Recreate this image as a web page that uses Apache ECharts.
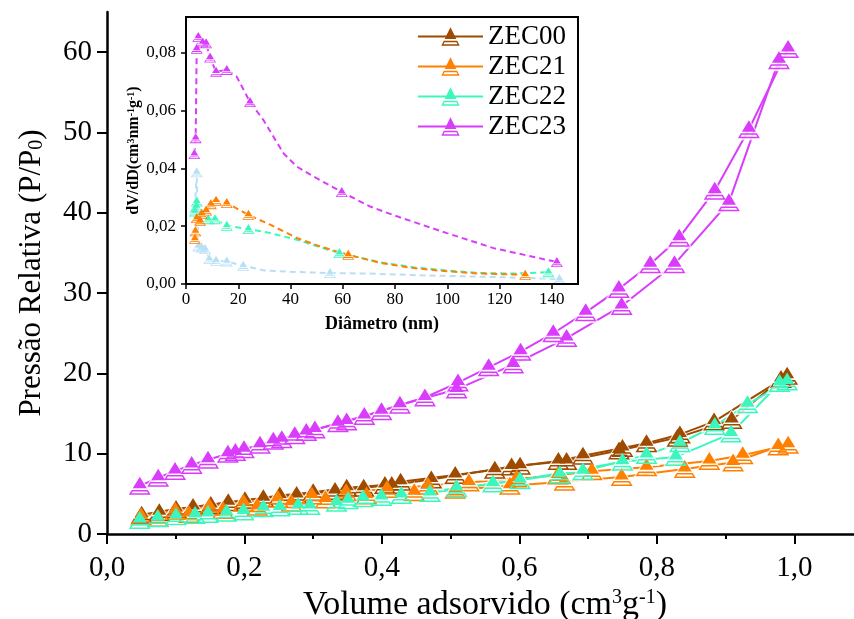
<!DOCTYPE html>
<html>
<head>
<meta charset="utf-8">
<script src="https://cdn.jsdelivr.net/npm/echarts@6/dist/echarts.min.js"></script>
<style>html,body{margin:0;padding:0;background:#fff}#c{width:854px;height:619px}</style>
</head>
<body>
<div id="c"></div>
<script>
// ---------- main isotherm data: [x, y] ----------
const zec00Ads = [[0.0504,2.4],[0.1004,3.1],[0.151,3.6],[0.2007,4.2],[0.2514,4.8],[0.300,5.2],[0.3488,5.75],[0.4044,6.1],[0.4272,6.5],[0.5067,7.35],[0.5643,8.0],[0.601,8.5],[0.6568,9.1],[0.6925,9.75],[0.750,10.7],[0.785,11.3],[0.8336,12.4],[0.8833,14.0],[0.9896,19.7]];
const zec00Des = [[0.9807,19.3],[0.909,14.2],[0.83,12.0],[0.745,10.4],[0.6687,9.1],[0.5887,8.4],[0.4719,6.8],[0.4143,6.1],[0.3735,5.77],[0.3318,5.35],[0.2759,4.85],[0.2275,4.45],[0.1764,3.95],[0.1252,3.36],[0.0761,2.7]];
const zec21Ads = [[0.0497,2.2],[0.0994,2.9],[0.149,3.4],[0.1987,3.9],[0.2484,4.4],[0.298,4.8],[0.3478,5.2],[0.4074,5.6],[0.467,6.0],[0.5266,6.4],[0.5962,6.9],[0.6558,7.3],[0.7055,7.8],[0.785,8.3],[0.8764,9.1],[0.925,9.8],[0.9911,11.1]];
const zec21Des = [[0.9767,10.9],[0.911,8.9],[0.8406,8.1],[0.7488,7.1],[0.6657,6.5],[0.5862,6.0],[0.5067,5.5],[0.4471,5.2],[0.3776,4.8],[0.318,4.3],[0.2683,3.9],[0.2186,3.4],[0.1689,3.0],[0.1192,2.5],[0.0745,2.0]];
const zec22Ads = [[0.0477,1.75],[0.1004,2.2],[0.147,2.5],[0.1987,2.8],[0.2514,3.3],[0.2951,3.5],[0.3508,4.2],[0.3994,4.6],[0.470,5.1],[0.5616,6.3],[0.6588,7.4],[0.6925,7.8],[0.785,9.85],[0.8336,11.3],[0.8843,13.45],[0.932,16.15],[0.9896,19.0]];
const zec22Des = [[0.9787,18.8],[0.908,12.5],[0.8276,9.6],[0.750,9.0],[0.601,6.7],[0.5087,5.7],[0.4282,4.86],[0.3726,4.44],[0.3339,3.9],[0.2782,3.5],[0.2275,3.2],[0.1739,2.66],[0.1282,2.37],[0.0735,1.95]];
const zec23Ads = [[0.0477,6.0],[0.0745,7.0],[0.099,7.85],[0.1232,8.6],[0.147,9.25],[0.1759,10.0],[0.1993,10.55],[0.2226,11.1],[0.242,11.6],[0.2732,12.3],[0.290,12.7],[0.336,13.8],[0.3744,14.7],[0.4626,17.0],[0.5107,18.85],[0.5554,20.75],[0.6018,22.7],[0.6493,25.0],[0.6965,27.6],[0.7448,30.5],[0.7904,33.6],[0.8326,36.9],[0.8843,42.75],[0.934,50.4],[0.991,60.4]];
const zec23Des = [[0.9777,59.0],[0.9049,41.3],[0.8257,33.6],[0.7488,28.4],[0.6687,24.4],[0.5912,21.1],[0.5087,18.0],[0.4262,16.1],[0.3994,15.3],[0.3487,14.0],[0.3025,13.0],[0.2543,11.8],[0.1868,10.2]];

// ---------- inset pore-size data: [diameter nm, dV/dD] ----------
const psd23Marks = [[3.2,0.0449],[3.7,0.0504],[4.1,0.0813],[4.7,0.0854],[6.4,0.0835],[7.7,0.0832],[9.2,0.0783],[11.5,0.0734],[15.6,0.074],[24.5,0.0629],[59.6,0.0318],[141.9,0.0076]];
const psd23Curve = [[3.2,0.0449],[3.7,0.0504],[4.1,0.0813],[4.7,0.0854],[6.4,0.0835],[7.7,0.0832],[9.2,0.0783],[11.5,0.0734],[15.6,0.074],[19.4,0.0717],[24.5,0.0629],[29.6,0.0567],[37.3,0.0452],[42.4,0.0406],[48.7,0.0372],[59.6,0.0318],[70.4,0.0268],[80.7,0.0234],[99.8,0.0176],[117.7,0.0124],[141.9,0.0076]];
const psd21Marks = [[3.4,0.0156],[3.6,0.0182],[4.1,0.0228],[5.4,0.0219],[6.0,0.0243],[7.7,0.0254],[9.5,0.0276],[11.5,0.0288],[15.6,0.028],[23.9,0.0239],[62.1,0.0101],[129.8,0.0032]];
const psd21Curve = [[3.4,0.0156],[3.6,0.0182],[4.1,0.0228],[5.4,0.0219],[6.0,0.0243],[7.7,0.0254],[9.5,0.0276],[11.5,0.0288],[15.6,0.028],[23.9,0.0239],[32.2,0.0205],[42.4,0.0159],[51.3,0.013],[62.1,0.0101],[74.3,0.0073],[87,0.0055],[99.7,0.0044],[112.6,0.0036],[129.8,0.0032]];
const psd22Marks = [[3.4,0.0251],[4.0,0.0268],[4.1,0.0285],[8.5,0.0224],[11.1,0.0224],[15.6,0.0201],[23.9,0.019],[58.7,0.0107],[138.7,0.0041]];
const psd22Curve = [[3.4,0.0251],[4.0,0.0268],[4.1,0.0285],[8.5,0.0224],[11.1,0.0224],[15.6,0.0201],[23.9,0.019],[32.2,0.0176],[42.4,0.0153],[51.3,0.0127],[58.7,0.0107],[74.3,0.0075],[87,0.0058],[99.7,0.0047],[112.6,0.0038],[125,0.0036],[138.7,0.0041]];
const psdBlueMarks = [[3.4,0.0262],[4.1,0.0386],[4.7,0.013],[6.0,0.0126],[7.3,0.0121],[8.9,0.0086],[11.5,0.008],[15.6,0.0078],[21.9,0.0063],[55.1,0.0038],[142.9,0.0017]];
const psdBlueCurve = [[3.4,0.0262],[4.1,0.0386],[4.7,0.013],[6.0,0.0126],[7.3,0.0121],[8.9,0.0086],[11.5,0.008],[15.6,0.0078],[21.9,0.0063],[30,0.0047],[40,0.0042],[55.1,0.0038],[70,0.0036],[90,0.003],[110,0.0026],[130,0.0021],[142.9,0.0017]];

// ---------- tick values ----------
const mainXTicks = [0,0.2,0.4,0.6,0.8,1.0];
const mainXMinor = [0.1,0.3,0.5,0.7,0.9];
const mainYTicks = [0,10,20,30,40,50,60];
const insetXTicks = [0,20,40,60,80,100,120,140];
const insetYTicks = [0,0.02,0.04,0.06,0.08];

const legendNames = ['ZEC00','ZEC21','ZEC22','ZEC23'];
const colors = {ZEC00:'#9e4b00', ZEC21:'#ff8000', ZEC22:'#3cf7bd', ZEC23:'#d93dfb', blue:'#b8e0f5'};

const FONT = 'Liberation Serif';
const SYM = 'path://M11,0L18.03,11.5L3.97,11.5Z M3,13.1L19,13.1L22,18L0,18Z M3.83,14.6L2.67,16.5L19.33,16.5L18.17,14.6Z';

const series = [];
function addBranch(name, lineData, markData, color, xi, yi, cfg) {
  series.push({type:'line', name: name + '~line', xAxisIndex: xi, yAxisIndex: yi, data: lineData,
    symbol:'none', smooth: false, silent:true, z:1, animation:false,
    lineStyle:{color: color, width: cfg.lw, type: cfg.dash || 'solid'}});
  series.push({type:'scatter', name: name + '~mask', xAxisIndex: xi, yAxisIndex: yi, data: markData,
    symbol:'triangle', symbolSize: cfg.mask, silent:true, z:2, animation:false,
    itemStyle:{color:'#ffffff'}});
  series.push({type:'line', name: name, xAxisIndex: xi, yAxisIndex: yi, data: markData,
    symbol: SYM, symbolSize: cfg.size, z:3, animation:false, silent:true,
    itemStyle:{color: color}, lineStyle:{color: color, width: 2, opacity: 0}});
}
const mainCfg = {lw:2, size:[22,18], mask:[27,22]};
addBranch('ZEC00', zec00Ads, zec00Ads, colors.ZEC00, 0, 0, mainCfg);
addBranch('ZEC00', zec00Des, zec00Des, colors.ZEC00, 0, 0, mainCfg);
addBranch('ZEC21', zec21Ads, zec21Ads, colors.ZEC21, 0, 0, mainCfg);
addBranch('ZEC21', zec21Des, zec21Des, colors.ZEC21, 0, 0, mainCfg);
addBranch('ZEC22', zec22Ads, zec22Ads, colors.ZEC22, 0, 0, mainCfg);
addBranch('ZEC22', zec22Des, zec22Des, colors.ZEC22, 0, 0, mainCfg);
addBranch('ZEC23', zec23Ads, zec23Ads, colors.ZEC23, 0, 0, mainCfg);
addBranch('ZEC23', zec23Des, zec23Des, colors.ZEC23, 0, 0, mainCfg);

const insetCfg = {lw:2, size:[12,10], mask:[15,12], dash:[6,4]};
addBranch('psdBlue', psdBlueCurve, psdBlueMarks, colors.blue, 2, 1, insetCfg);
addBranch('psd22', psd22Curve, psd22Marks, colors.ZEC22, 2, 1, insetCfg);
addBranch('psd21', psd21Curve, psd21Marks, colors.ZEC21, 2, 1, insetCfg);
addBranch('psd23', psd23Curve, psd23Marks, colors.ZEC23, 2, 1, insetCfg);

const comma = (v, d) => v.toFixed(d).replace('.', ',');
const blackLine = w => ({show:true, lineStyle:{color:'#000', width:w}});

const option = {
  backgroundColor:'#ffffff',
  animation:false,
  grid:[
    {left:107, top:12, width:756, height:522, outerBoundsMode:'none', containLabel:false},
    {left:186, top:17, width:392, height:267, outerBoundsMode:'none', containLabel:false,
     show:true, backgroundColor:'#ffffff', borderColor:'#000', borderWidth:2}
  ],
  xAxis:[
    {type:'value', gridIndex:0, min:0, max:1.1, interval:0.2, position:'bottom', z:10,
     axisLine: blackLine(2.5), splitLine:{show:false},
     axisTick:{show:true, inside:false, length:10, customValues: mainXTicks, lineStyle:{color:'#000', width:2}},
     axisLabel:{customValues: mainXTicks, formatter: v => comma(v,1), fontFamily:FONT, fontSize:29, color:'#000', margin:20},
     name:'Volume adsorvido (cm{sup|3}g{sup|-1})', nameLocation:'middle', nameGap:52,
     nameTextStyle:{fontFamily:FONT, fontSize:34, color:'#000',
       rich:{sup:{fontFamily:FONT, fontSize:20, color:'#000', verticalAlign:'top'}}}},
    {type:'value', gridIndex:0, min:0, max:1.1, interval:0.2, position:'bottom', z:10,
     axisLine:{show:false}, splitLine:{show:false}, axisLabel:{show:false},
     axisTick:{show:true, length:5, customValues: mainXMinor, lineStyle:{color:'#000', width:2}}},
    {type:'value', gridIndex:1, min:0, max:150, interval:20, position:'bottom', z:10,
     axisLine: blackLine(2), splitLine:{show:false},
     axisTick:{show:true, length:5, customValues: insetXTicks, lineStyle:{color:'#000', width:1.5}},
     axisLabel:{customValues: insetXTicks, fontFamily:FONT, fontSize:17, color:'#000', margin:7},
     name:'Diâmetro (nm)', nameLocation:'middle', nameGap:31,
     nameTextStyle:{fontFamily:FONT, fontSize:18, fontWeight:'bold', color:'#000'}}
  ],
  yAxis:[
    {type:'value', gridIndex:0, min:0, max:65, interval:10, z:10,
     axisLine: blackLine(2.5), splitLine:{show:false},
     axisTick:{show:true, length:10, customValues: mainYTicks, lineStyle:{color:'#000', width:2}},
     axisLabel:{customValues: mainYTicks, fontFamily:FONT, fontSize:29, color:'#000', margin:15},
     name:'Pressão Relativa (P/P{sub|0})', nameLocation:'middle', nameGap:60,
     nameTextStyle:{fontFamily:FONT, fontSize:31, color:'#000',
       rich:{sub:{fontFamily:FONT, fontSize:20, color:'#000', verticalAlign:'bottom'}}}},
    {type:'value', gridIndex:1, min:0, max:0.0923, interval:0.02, z:10,
     axisLine: blackLine(2), splitLine:{show:false},
     axisTick:{show:true, length:5, customValues: insetYTicks, lineStyle:{color:'#000', width:1.5}},
     axisLabel:{customValues: insetYTicks, formatter: v => comma(v,2), fontFamily:FONT, fontSize:17, color:'#000', margin:10},
     name:'dV/dD(cm{sup|3}nm{sup|-1}g{sup|-1})', nameLocation:'middle', nameGap:33,
     nameTextStyle:{fontFamily:FONT, fontSize:16, fontWeight:'bold', color:'#000',
       rich:{sup:{fontFamily:FONT, fontSize:10, fontWeight:'bold', color:'#000', verticalAlign:'top'}}}}
  ],
  legend:{
    data: legendNames, orient:'vertical', left:412, top:18, itemWidth:65, itemHeight:23, itemGap:3,
    selectedMode:false, textStyle:{fontFamily:FONT, fontSize:27, color:'#000'},
    lineStyle:{width:2, opacity:1}
  },
  series: series
};

const chart = echarts.init(document.getElementById('c'), null, {renderer:'canvas'});
chart.setOption(option);
</script>
</body>
</html>
